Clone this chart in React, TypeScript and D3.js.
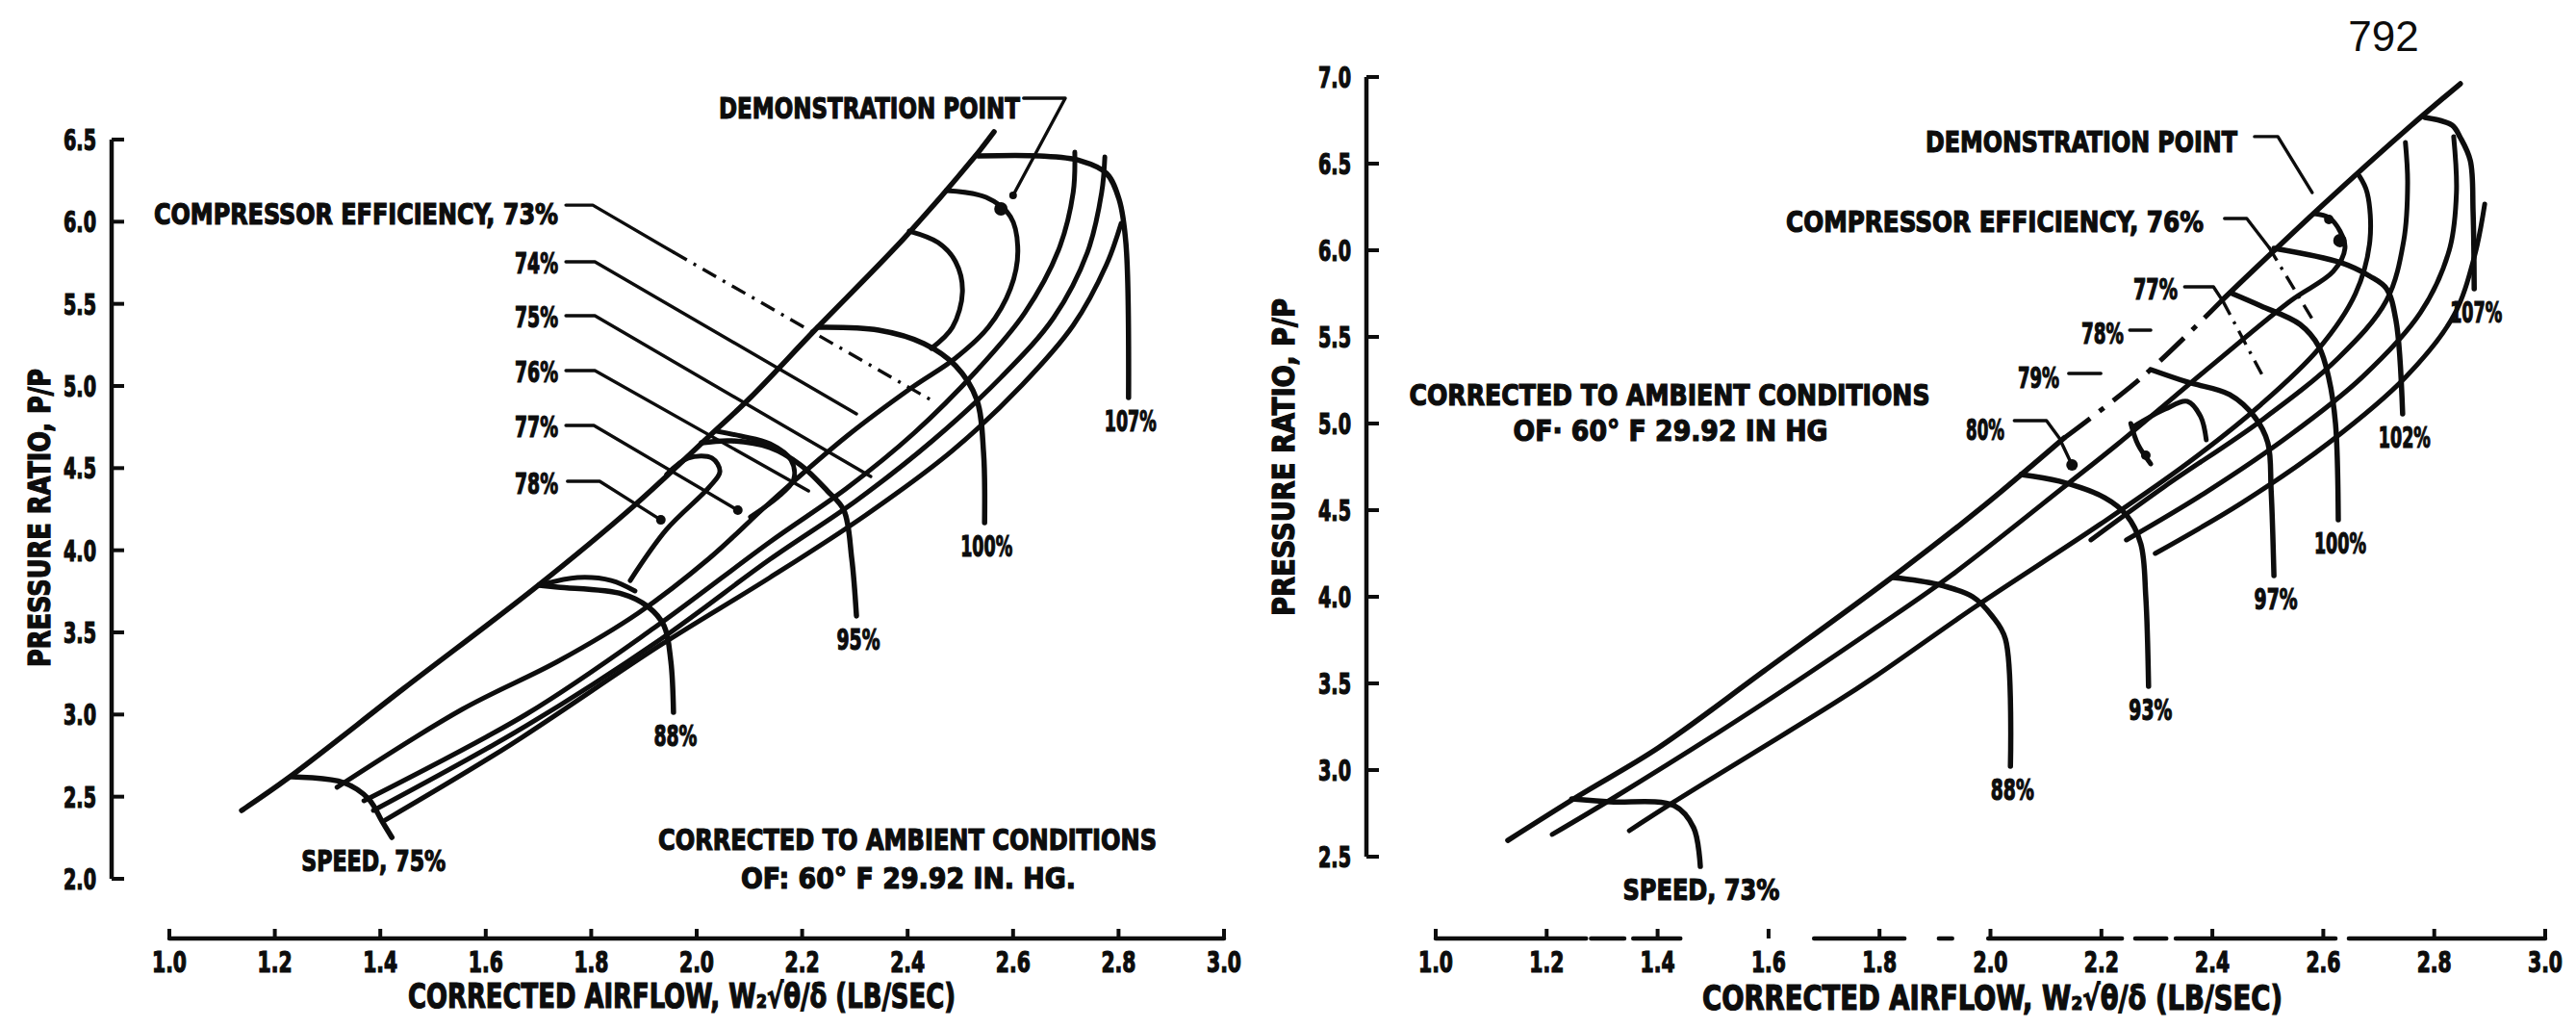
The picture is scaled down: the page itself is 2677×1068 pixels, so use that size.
import * as d3 from 'd3';

type Pt = [number, number];

// tick values shared by both maps
const xTicks = [1.0, 1.2, 1.4, 1.6, 1.8, 2.0, 2.2, 2.4, 2.6, 2.8, 3.0];
const leftYTicks = [2.0, 2.5, 3.0, 3.5, 4.0, 4.5, 5.0, 5.5, 6.0, 6.5];
const rightYTicks = [2.5, 3.0, 3.5, 4.0, 4.5, 5.0, 5.5, 6.0, 6.5, 7.0];

// ---------- left map: airflow (lb/sec) vs pressure ratio ----------
const leftSurge: Pt[] = [[1.137, 2.416], [1.226, 2.615], [1.445, 3.16], [1.695, 3.775], [1.878, 4.262], [2.024, 4.695], [2.102, 4.93], [2.224, 5.34], [2.394, 5.902], [2.527, 6.394], [2.564, 6.547]];

const leftSpeed75: Pt[] = [[1.232, 2.621], [1.33, 2.586], [1.378, 2.486], [1.403, 2.352], [1.422, 2.252]];
const leftSpeed88: Pt[] = [[1.701, 3.787], [1.737, 3.775], [1.859, 3.734], [1.907, 3.658], [1.938, 3.541], [1.951, 3.324], [1.956, 3.014]];
const leftSpeed95: Pt[] = [[2.009, 4.654], [2.066, 4.666], [2.139, 4.625], [2.197, 4.519], [2.248, 4.361], [2.279, 4.244], [2.294, 3.951], [2.303, 3.6]];
const leftSpeed100: Pt[] = [[2.23, 5.357], [2.345, 5.34], [2.431, 5.258], [2.491, 5.123], [2.531, 4.918], [2.544, 4.596], [2.546, 4.168]];
const leftSpeed107: Pt[] = [[2.535, 6.4], [2.65, 6.4], [2.728, 6.371], [2.777, 6.295], [2.801, 6.137], [2.814, 5.867], [2.819, 4.93]];
const leftSpeedNames = ['SPEED, 75%', '88%', '95%', '100%', '107%'];

// efficiency contours
const leftEff73: Pt[] = [[1.318, 2.557], [1.555, 3.031], [1.737, 3.324], [1.889, 3.617], [2.024, 3.951], [2.139, 4.291], [2.285, 4.695], [2.407, 4.988], [2.491, 5.17], [2.553, 5.357], [2.595, 5.592], [2.609, 5.826], [2.595, 6.031], [2.549, 6.148], [2.473, 6.189]];
const leftBandC: Pt[] = [[1.369, 2.475], [1.677, 3.002], [1.92, 3.529], [2.139, 4.051], [2.285, 4.379], [2.412, 4.713], [2.531, 5.094], [2.622, 5.445], [2.686, 5.826], [2.714, 6.178], [2.717, 6.424]];
const leftBandD: Pt[] = [[1.387, 2.416], [1.677, 2.932], [1.932, 3.459], [2.139, 3.945], [2.303, 4.303], [2.449, 4.672], [2.577, 5.052], [2.677, 5.416], [2.741, 5.814], [2.768, 6.178], [2.774, 6.394]];
const leftBandE: Pt[] = [[1.409, 2.357], [1.646, 2.814], [1.932, 3.424], [2.139, 3.834], [2.321, 4.215], [2.485, 4.607], [2.617, 5.006], [2.714, 5.369], [2.777, 5.738], [2.805, 5.99]];
const leftEff74: Pt[] = [[2.403, 5.943], [2.458, 5.873], [2.491, 5.756], [2.504, 5.574], [2.485, 5.357], [2.445, 5.228]];
const leftEff77: Pt[] = [[2.038, 4.725], [2.084, 4.695], [2.139, 4.648], [2.179, 4.549], [2.184, 4.432], [2.157, 4.332], [2.102, 4.203]];
const leftEff78: Pt[] = [[1.943, 4.461], [1.984, 4.561], [2.029, 4.561], [2.044, 4.479], [2.024, 4.385], [1.943, 4.127], [1.874, 3.816]];
const leftShelf88: Pt[] = [[1.71, 3.793], [1.774, 3.834], [1.838, 3.816], [1.883, 3.752]];

// leader lines for the efficiency labels
const leftLeaders: Pt[][] = [
  [[1.752, 5.756], [1.807, 5.756], [2.303, 4.83]],
  [[1.752, 5.428], [1.807, 5.428], [2.33, 4.449]],
  [[1.752, 5.094], [1.807, 5.094], [2.212, 4.361]],
  [[1.752, 4.76], [1.805, 4.76], [2.078, 4.244]],
  [[1.755, 4.42], [1.816, 4.42], [1.932, 4.185]],
  [[1.752, 6.101], [1.803, 6.101], [1.956, 5.814]],
  [[2.62, 6.752], [2.699, 6.752], [2.6, 6.16]],
];
const leftDashDot: Pt[][] = [[[1.956, 5.814], [2.449, 4.906]]];
const leftDots: [number, number, number][] = [[2.577, 6.078, 7], [2.6, 6.16, 4], [1.932, 4.185, 5], [2.078, 4.244, 5]];

// ---------- right map ----------
// surge line in three pieces, the middle one printed broken
const rightSurgeLow: Pt[] = [[1.13, 2.594], [1.257, 2.85], [1.401, 3.128], [1.592, 3.572], [1.829, 4.128], [1.985, 4.517], [2.133, 4.917]];
const rightSurgeMid: Pt[] = [[2.133, 4.917], [2.277, 5.278], [2.42, 5.72]];
const rightSurgeTop: Pt[] = [[2.42, 5.72], [2.599, 6.261], [2.759, 6.722], [2.847, 6.961]];

const rightSpeed73: Pt[] = [[1.245, 2.833], [1.314, 2.817], [1.43, 2.794], [1.465, 2.667], [1.477, 2.444]];
const rightSpeed88: Pt[] = [[1.824, 4.111], [1.904, 4.072], [1.968, 4.0], [2.003, 3.889], [2.027, 3.756], [2.036, 3.022]];
const rightSpeed93: Pt[] = [[2.055, 4.706], [2.124, 4.667], [2.206, 4.572], [2.245, 4.472], [2.271, 4.306], [2.28, 4.0], [2.285, 3.483]];
const rightSpeed97: Pt[] = [[2.289, 5.311], [2.355, 5.239], [2.431, 5.167], [2.476, 5.039], [2.5, 4.889], [2.506, 4.611], [2.511, 4.122]];
const rightSpeed100: Pt[] = [[2.436, 5.75], [2.488, 5.678], [2.558, 5.572], [2.592, 5.444], [2.61, 5.261], [2.622, 5.0], [2.627, 4.444]];
const rightSpeed102: Pt[] = [[2.511, 6.011], [2.632, 5.928], [2.684, 5.85], [2.714, 5.778], [2.731, 5.594], [2.743, 5.056]];
const rightSpeed107: Pt[] = [[2.783, 6.767], [2.832, 6.722], [2.847, 6.65], [2.865, 6.517], [2.87, 6.222], [2.872, 5.778]];
const rightSpeedNames = ['SPEED, 73%', '88%', '93%', '97%', '100%', '102%', '107%'];

const rightEff76: Pt[] = [[1.21, 2.628], [1.326, 2.85], [1.574, 3.35], [1.794, 3.822], [1.931, 4.128], [2.141, 4.656], [2.228, 4.878], [2.402, 5.344], [2.54, 5.706], [2.618, 5.878], [2.639, 6.011], [2.63, 6.111], [2.61, 6.189], [2.584, 6.211]];
const rightBandB: Pt[] = [[1.349, 2.65], [1.43, 2.817], [1.72, 3.389], [1.794, 3.544], [1.971, 3.939], [2.197, 4.417], [2.358, 4.778], [2.488, 5.111], [2.592, 5.433], [2.658, 5.75], [2.684, 6.056], [2.679, 6.333], [2.665, 6.428]];
const rightBandR4: Pt[] = [[2.181, 4.328], [2.315, 4.639], [2.488, 5.017], [2.627, 5.378], [2.714, 5.711], [2.745, 6.056], [2.752, 6.389], [2.748, 6.622]];
const rightBandR5: Pt[] = [[2.245, 4.328], [2.384, 4.594], [2.54, 4.933], [2.67, 5.267], [2.775, 5.639], [2.827, 6.0], [2.84, 6.333], [2.835, 6.656]];
const rightBandR6: Pt[] = [[2.297, 4.25], [2.454, 4.544], [2.61, 4.889], [2.748, 5.267], [2.835, 5.622], [2.873, 5.972], [2.891, 6.267]];
const rightIslandTop: Pt[] = [[2.258, 4.983], [2.315, 5.083], [2.355, 5.128], [2.379, 5.039], [2.389, 4.906]];
const rightIslandLeft: Pt[] = [[2.253, 5.0], [2.266, 4.878], [2.289, 4.767]];

const rightLeaders: Pt[][] = [
  [[2.476, 6.656], [2.518, 6.656], [2.58, 6.333]],
  [[2.422, 6.183], [2.462, 6.183], [2.502, 6.017]],
  [[2.35, 5.789], [2.402, 5.789], [2.419, 5.706]],
  [[2.251, 5.539], [2.289, 5.539]],
  [[2.141, 5.289], [2.199, 5.289]],
  [[2.043, 5.017], [2.101, 5.017], [2.124, 4.917], [2.147, 4.761]],
];
const rightDashDot: Pt[][] = [
  [[2.502, 6.017], [2.584, 5.583]],
  [[2.419, 5.706], [2.493, 5.261]],
];
const rightDots: [number, number, number][] = [[2.61, 6.178, 5], [2.63, 6.056, 7], [2.147, 4.761, 6], [2.28, 4.817, 5]];

// the right airflow axis is broken in the original print
const leftAxisSegments: [number, number][] = [[1.0, 3.0]];
const rightAxisSegments: [number, number][] = [[1.0, 1.271], [1.28, 1.34], [1.356, 1.441], [1.682, 1.845], [1.907, 1.931], [1.996, 2.237], [2.261, 2.317], [2.334, 2.622], [2.646, 3.0]];

const FONT = "'DejaVu Sans Condensed', 'Liberation Sans Narrow', 'DejaVu Sans', sans-serif";
const INK = '#0d0d0d';

function Label({ x, y, w, size = 31, anchor = 'start', children }: any) {
  return (
    <text x={x} y={y} fontSize={size} fontFamily={FONT} fontWeight="bold" fill={INK}
      stroke={INK} strokeWidth={1.2} paintOrder="stroke"
      textAnchor={anchor} textLength={w} lengthAdjust="spacingAndGlyphs">
      {children}
    </text>
  );
}

function MapPanel({ cfg }: any) {
  const x = d3.scaleLinear().domain([1, 3]).range([cfg.x0, cfg.x1]);
  const y = d3.scaleLinear().domain(cfg.yDomain).range([cfg.yBot, cfg.yTop]);
  const smooth = d3.line<Pt>().x(d => x(d[0])).y(d => y(d[1])).curve(d3.curveCatmullRom.alpha(0.5));
  const straight = d3.line<Pt>().x(d => x(d[0])).y(d => y(d[1]));
  const yMin = cfg.yTicks[0];
  const yMax = cfg.yTicks[cfg.yTicks.length - 1];

  return (
    <g>
      {/* pressure ratio axis, ticks point inwards */}
      <line x1={cfg.yAxisX} x2={cfg.yAxisX} y1={y(yMax)} y2={y(yMin)} stroke={INK} strokeWidth={4.5} />
      {cfg.yTicks.map((t: number) => (
        <g key={'y' + t}>
          <line x1={cfg.yAxisX} x2={cfg.yAxisX + 13} y1={y(t)} y2={y(t)} stroke={INK} strokeWidth={4} />
          <Label x={cfg.yAxisX - 16} y={y(t) + 11} w={34} size={30} anchor="end">{t.toFixed(1)}</Label>
        </g>
      ))}
      <g transform={`translate(${cfg.yTitle[0]},${cfg.yTitle[1]}) rotate(-90)`}>
        <Label x={0} y={0} w={cfg.yTitle[2]} size={32} anchor="middle">PRESSURE RATIO, P/P</Label>
      </g>

      {/* airflow axis */}
      {cfg.axisSegments.map((s: [number, number], i: number) => (
        <line key={'s' + i} x1={x(s[0])} x2={x(s[1])} y1={cfg.xAxisY} y2={cfg.xAxisY} stroke={INK} strokeWidth={4.5} strokeLinecap="round" />
      ))}
      {xTicks.map(t => (
        <g key={'x' + t}>
          <line x1={x(t)} x2={x(t)} y1={cfg.xAxisY} y2={cfg.xAxisY - 10} stroke={INK} strokeWidth={4} />
          <Label x={x(t)} y={cfg.xAxisY + 35} w={36} size={30} anchor="middle">{t.toFixed(1)}</Label>
        </g>
      ))}
      <Label x={cfg.xTitle[0]} y={cfg.xTitle[1]} w={cfg.xTitle[2]} size={35}>
        CORRECTED AIRFLOW, W₂√θ/δ (LB/SEC)
      </Label>

      {/* map lines */}
      <g fill="none" stroke={INK} strokeLinecap="round" strokeLinejoin="round">
        {cfg.surge.map((s: Pt[], i: number) => (
          <path key={'su' + i} d={smooth(s) ?? ''} strokeWidth={5.5} />
        ))}
        {cfg.surgeBroken.map((s: Pt[], i: number) => (
          <path key={'sb' + i} d={smooth(s) ?? ''} strokeWidth={5} strokeDasharray="34 12 6 12" strokeLinecap="butt" />
        ))}
        {cfg.speeds.map((s: Pt[], i: number) => (
          <path key={'sp' + i} d={smooth(s) ?? ''} strokeWidth={5.5} />
        ))}
        {cfg.contours.map((c: Pt[], i: number) => (
          <path key={'c' + i} d={smooth(c) ?? ''} strokeWidth={5} />
        ))}
        {cfg.leaders.map((l: Pt[], i: number) => (
          <path key={'l' + i} d={straight(l) ?? ''} strokeWidth={3.4} />
        ))}
        {cfg.dashDot.map((l: Pt[], i: number) => (
          <path key={'dd' + i} d={straight(l) ?? ''} strokeWidth={3.4} strokeDasharray="16 8 3 8" strokeLinecap="butt" />
        ))}
      </g>
      {cfg.dots.map((d: [number, number, number], i: number) => (
        <circle key={'d' + i} cx={x(d[0])} cy={y(d[1])} r={d[2]} fill={INK} />
      ))}

      {/* speed labels sit under the end of each speed line */}
      {cfg.speeds.map((s: Pt[], i: number) => {
        const last = s[s.length - 1];
        const name = cfg.speedNames[i];
        const long = name.startsWith('SPEED');
        return (
          <Label key={'sl' + i} x={x(last[0]) + (long ? cfg.speedDx : 2)} y={y(last[1]) + 35}
            w={long ? cfg.speedW : name.length > 3 ? 54 : 45} anchor="middle">{name}</Label>
        );
      })}

      {cfg.texts.map((t: any, i: number) => (
        <Label key={'t' + i} x={t[0]} y={t[1]} w={t[2]} anchor={t[3]}>{t[4]}</Label>
      ))}
    </g>
  );
}

const leftCfg = {
  x0: 176, x1: 1272, yBot: 913, yTop: 145, yDomain: [2.0, 6.5], yAxisX: 116, xAxisY: 975,
  yTicks: leftYTicks, axisSegments: leftAxisSegments,
  yTitle: [52, 538, 310], xTitle: [424, 1047, 569],
  surge: [leftSurge], surgeBroken: [],
  speeds: [leftSpeed75, leftSpeed88, leftSpeed95, leftSpeed100, leftSpeed107],
  speedNames: leftSpeedNames, speedDx: -19, speedW: 150,
  contours: [leftEff73, leftBandC, leftBandD, leftBandE, leftEff74, leftEff77, leftEff78, leftShelf88],
  leaders: leftLeaders, dashDot: leftDashDot, dots: leftDots,
  texts: [
    [747, 123, 313, 'start', 'DEMONSTRATION POINT'],
    [580, 233, 420, 'end', 'COMPRESSOR EFFICIENCY, 73%'],
    [580, 284, 45, 'end', '74%'],
    [580, 340, 45, 'end', '75%'],
    [580, 397, 45, 'end', '76%'],
    [580, 454, 45, 'end', '77%'],
    [580, 513, 45, 'end', '78%'],
    [943, 883, 518, 'middle', 'CORRECTED TO AMBIENT CONDITIONS'],
    [944, 923, 348, 'middle', 'OF: 60° F  29.92 IN. HG.'],
  ],
};

const rightCfg = {
  x0: 1492, x1: 2645, yBot: 890, yTop: 80, yDomain: [2.5, 7.0], yAxisX: 1420, xAxisY: 975,
  yTicks: rightYTicks, axisSegments: rightAxisSegments,
  yTitle: [1345, 475, 330], xTitle: [1769, 1049, 603],
  surge: [rightSurgeLow, rightSurgeTop], surgeBroken: [rightSurgeMid],
  speeds: [rightSpeed73, rightSpeed88, rightSpeed93, rightSpeed97, rightSpeed100, rightSpeed102, rightSpeed107],
  speedNames: rightSpeedNames, speedDx: 1, speedW: 163,
  contours: [rightEff76, rightBandB, rightBandR4, rightBandR5, rightBandR6, rightIslandTop, rightIslandLeft],
  leaders: rightLeaders, dashDot: rightDashDot, dots: rightDots,
  texts: [
    [2001, 158, 324, 'start', 'DEMONSTRATION POINT'],
    [2290, 241, 434, 'end', 'COMPRESSOR EFFICIENCY, 76%'],
    [2263, 311, 46, 'end', '77%'],
    [2207, 357, 44, 'end', '78%'],
    [2140, 403, 43, 'end', '79%'],
    [2083, 457, 40, 'end', '80%'],
    [1735, 421, 541, 'middle', 'CORRECTED TO AMBIENT CONDITIONS'],
    [1736, 458, 327, 'middle', 'OF· 60° F  29.92 IN HG'],
  ],
};

export default function App() {
  return (
    <svg width={2677} height={1068} viewBox="0 0 2677 1068"
      style={{ position: 'absolute', left: 0, top: 0, background: '#fff', display: 'block' }}>
      <rect width={2677} height={1068} fill="#fff" />
      <MapPanel cfg={leftCfg} />
      <MapPanel cfg={rightCfg} />
      <text x={2477} y={53} fontSize={44} fontFamily="'Liberation Sans', Arial, sans-serif" fill={INK} textAnchor="middle">792</text>
    </svg>
  );
}
